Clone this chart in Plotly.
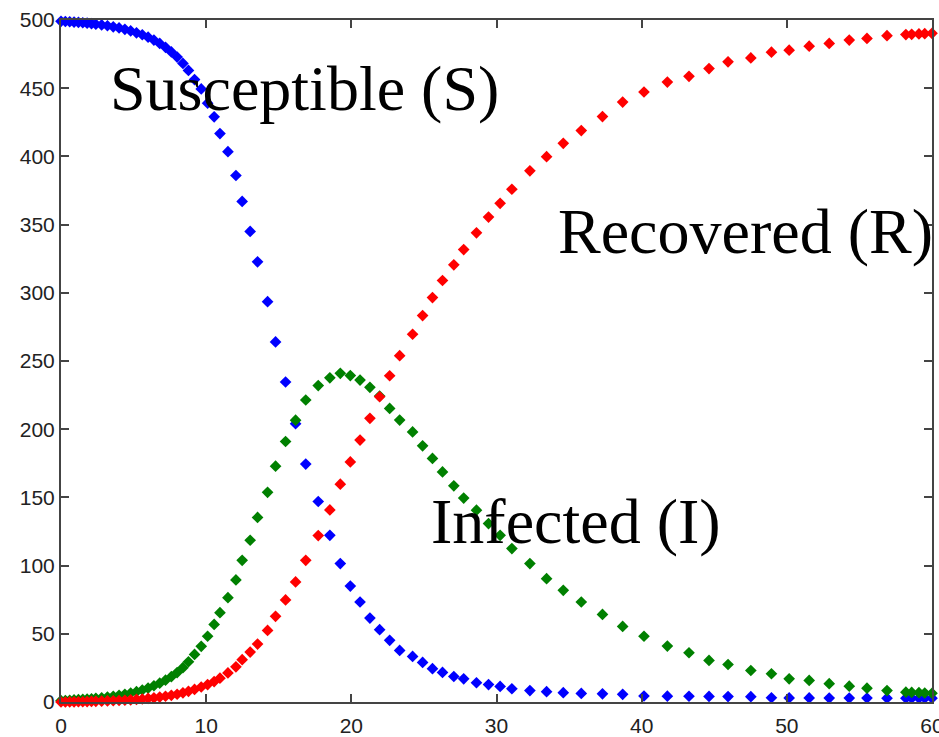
import plotly.graph_objects as go

t = [0, 0.3, 0.6, 0.9, 1.2, 1.5, 1.8, 2.1, 2.4, 2.8, 3.2, 3.6, 4.0, 4.4, 4.8, 5.2, 5.6, 6.0,
     6.4, 6.8, 7.2, 7.6, 8.0, 8.4, 8.78, 9.2, 9.66, 10.1, 10.55, 10.95, 11.5, 12.05, 12.48,
     13.03, 13.54, 14.23, 14.78, 15.47, 16.16, 16.86, 17.72, 18.52, 19.24, 19.93, 20.6,
     21.28, 21.95, 22.64, 23.33, 24.22, 24.91, 25.59, 26.28, 27.06, 27.74, 28.62, 29.45,
     30.25, 31.06, 32.3, 33.45, 34.6, 35.84, 37.3, 38.69, 40.16, 41.77, 43.26, 44.64,
     45.95, 47.52, 48.94, 50.16, 51.54, 52.92, 54.3, 55.52, 56.9, 58.2, 58.6, 59.1, 59.5, 60.0]

susceptible = [499, 498.9, 498.7, 498.5, 498.3, 498, 497.7, 497.3, 496.9, 496.4, 495.8, 495.0,
               494.2, 493.2, 492, 490.6, 489.2, 487.4, 485.3, 482.8, 480, 476.6, 472.8, 468.2,
               463, 456.3, 449.5, 439, 429, 416.7, 403.5, 386, 367, 345, 322.7, 293.5, 264,
               234.6, 204, 174.4, 147, 122.2, 101.5, 85, 73.3, 61.5, 53, 45.2, 37.8, 33.4, 29,
               24.4, 21.7, 18.7, 17, 14.1, 12.8, 11.4, 9.7, 8.4, 7.6, 6.8, 6.3, 6, 5.6, 4.4,
               4.3, 4.2, 4.1, 4.0, 3.9, 3.1, 3.0, 3.0, 2.9, 2.9, 2.9, 2.8, 2.8, 2.8, 2.8, 2.8, 2.8]

infected = [1, 1.1, 1.3, 1.5, 1.7, 1.9, 2.1, 2.4, 2.7, 3.1, 3.6, 4.2, 4.9, 5.7, 6.6, 7.6, 8.8,
            10.2, 11.9, 13.8, 16, 18.6, 21.6, 25.2, 29.5, 34.9, 40.8, 48.2, 56.9, 65.5, 76.5,
            89.5, 103.9, 118.6, 135.3, 153.7, 172.9, 191, 206.6, 221.4, 232, 237.7, 241, 239.3,
            236, 230.7, 224.3, 215.2, 206.7, 198, 187.8, 178.6, 168.7, 158.5, 149.5, 140.6,
            130.8, 122.2, 112.5, 101.5, 90.4, 81.9, 73.3, 64.2, 55.4, 48.2, 41, 36.1, 30.5,
            27.5, 23.1, 20.7, 17, 15.8, 13.4, 11.6, 10.1, 8.4, 7.2, 7.0, 6.8, 6.6, 6.4]

recovered = [0, 0, 0.1, 0.1, 0.2, 0.2, 0.3, 0.4, 0.5, 0.6, 0.8, 0.9, 1.1, 1.3, 1.6, 1.9, 2.2,
             2.6, 3.0, 3.6, 4.2, 4.9, 5.7, 6.7, 7.8, 9.2, 11, 12.8, 15, 17.5, 21.3, 25.8, 31,
             36.6, 42.5, 52.5, 62.8, 74.8, 88, 103.9, 122, 140.8, 159.7, 176, 192, 208, 223.8,
             239.2, 253.9, 269.6, 283.3, 296.5, 309, 320.5, 331.7, 344, 355.5, 365.6, 375.9,
             389.4, 399.8, 409.6, 418.9, 429.2, 439.8, 447.2, 454.5, 458.7, 464.4, 469.3, 472.2,
             476.4, 477.9, 480.8, 482.8, 485.3, 486.5, 488.5, 489.3, 489.5, 489.8, 490, 490.2]

x_ticks = [0, 10, 20, 30, 40, 50, 60]
y_ticks = [0, 50, 100, 150, 200, 250, 300, 350, 400, 450, 500]

labels = ["Susceptible (S)", "Recovered (R)", "Infected (I)"]
label_x = [3.25, 34.1, 25.35]
label_y = [450, 345, 132]

fig = go.Figure()
for ys, col in [(susceptible, "#0000ff"), (infected, "#008000"), (recovered, "#ff0000")]:
    fig.add_trace(go.Scatter(x=t, y=ys, mode="markers", cliponaxis=False,
                             marker=dict(symbol="diamond", size=9, color=col, line=dict(width=0)),
                             showlegend=False, hoverinfo="x+y"))

for txt, lx, ly in zip(labels, label_x, label_y):
    fig.add_annotation(x=lx, y=ly, xref="x", yref="y", text=txt, showarrow=False,
                       xanchor="left", yanchor="middle",
                       font=dict(family="Liberation Serif, Times New Roman, serif", size=64, color="black"))

axis_common = dict(showline=True, linecolor="#444444", linewidth=2, mirror="ticks",
                   ticks="inside", ticklen=8, tickwidth=1.5, tickcolor="#444444",
                   showgrid=False, zeroline=False, ticklabeloverflow="allow", automargin=False,
                   tickfont=dict(family="Liberation Sans, Arial, sans-serif", size=21, color="#222222"))

fig.update_xaxes(range=[0, 60], tickvals=x_ticks, ticktext=[str(v) for v in x_ticks],
                 ticklabelstandoff=4, **axis_common)
fig.update_yaxes(range=[0, 500], tickvals=y_ticks, ticktext=[str(v) for v in y_ticks], **axis_common)

fig.update_layout(width=939, height=737, margin=dict(l=61, r=7, t=20, b=35, autoexpand=False),
                  plot_bgcolor="white", paper_bgcolor="white")

fig.write_html("out.html")
